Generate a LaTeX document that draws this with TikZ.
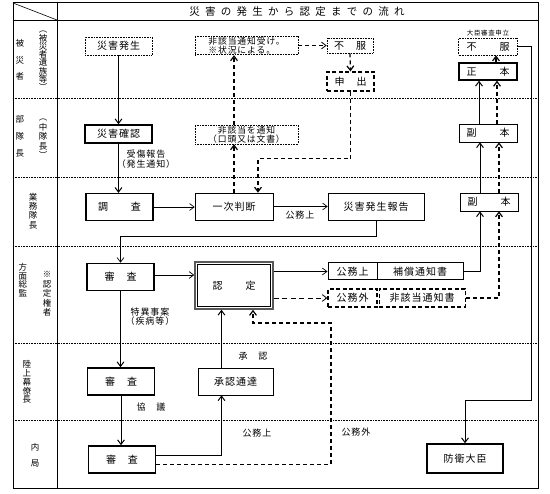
\documentclass[tikz,border=0pt]{standalone}
\usepackage{fontspec}
\setmainfont{Noto Sans CJK JP}[LetterSpace=10]
\newfontfamily\titlefont{Noto Sans CJK JP}[LetterSpace=50]
\usetikzlibrary{arrows.meta, positioning}

\begin{document}
\begin{tikzpicture}[
    x=1pt, y=-1pt,
    node distance=1pt,
    box/.style={rectangle, draw, line width=0.6pt, minimum width=67pt, minimum height=27pt, inner sep=1pt, align=center, font=\fontsize{10}{10.5}\selectfont},
    thickbox/.style={box, line width=1.5pt},
    dotbox/.style={box, densely dotted, line width=0.7pt, minimum height=18pt},
    dashbox/.style={box, dash pattern=on 4pt off 2.5pt, line width=1.2pt, minimum height=18pt},
    lbl/.style={font=\fontsize{9}{9.5}\selectfont, align=center, inner sep=1pt},
    side/.style={font=\fontsize{8.5}{#1}\selectfont, align=center, inner sep=0pt},
    arrow/.style={-{Straight Barb[length=1.6mm, width=2.4mm]}, line width=1pt},
    darrow/.style={arrow, dash pattern=on 4pt off 3pt, line width=1.2pt}
]
\useasboundingbox (0,0) rectangle (550,494);

% frame and lanes
\draw[line width=1pt] (13,3) rectangle (538,489);
\draw[line width=0.8pt] (13,20) -- (538,20);
\draw[line width=1pt] (57,3) -- (57,489);
\draw[line width=0.6pt] (13,3) -- (57,20);
\foreach \y in {98,177,246,343,420}
    \draw[densely dotted, line width=0.6pt] (13,\y) -- (538,\y);

\node[font=\fontsize{10.5}{12}\selectfont\titlefont] (title) at (297,12) {災害の発生から認定までの流れ};

% lane names
\node[side=16.5] (s1a) at (20,60) {被\\災\\者};
\node[side=8.3] (s1b) at (43,61) {︵\\被\\災\\者\\遺\\族\\等\\︶};
\node[side=17] (s2a) at (20,136) {部\\隊\\長};
\node[side=9.5] (s2b) at (43,139) {︵\\中\\隊\\長\\︶};
\node[side=9.3] (s3) at (33,211) {業\\務\\隊\\長};
\node[side=8.7] (s4a) at (23,280) {方\\面\\総\\監};
\node[side=9.5] (s4b) at (47,294) {※\\認\\定\\権\\者};
\node[side=8.8] (s5) at (27,382) {陸\\上\\幕\\僚\\長};
\node[side=16] (s6) at (35,455) {内\\局};

% boxes
\node[dotbox] (occur) at (118.5,46) {災害発生};
\node[thickbox, minimum height=18pt] (confirm) at (118.5,134) {災害確認};
\node[thickbox, line width=1.2pt] (survey) at (119.5,207) {調　　査};
\node[box, minimum width=78pt] (judge) at (234,206.5) {一次判断};
\node[box, minimum width=96pt] (report) at (376,206.5) {災害発生報告};
\node[thickbox] (exam1) at (120.5,277) {審　査};
\node[box, line width=1.6pt, draw=black!65, minimum width=78pt, minimum height=47pt] (nintei) at (234,285.5) {認　　定};
\node[draw, line width=0.6pt, minimum width=73pt, minimum height=42pt, inner sep=0pt] (ninteiin) at (nintei) {};
\node[box, line width=1pt, minimum width=49pt, minimum height=17pt] (kouA) at (352.5,271.5) {公務上};
\node[box, line width=1pt, minimum width=86pt, minimum height=17pt, right=-1pt of kouA] (hosho) {補償通知書};
\node[dashbox, minimum width=49pt] (kougai) at (352.5,298) {公務外};
\node[dashbox, minimum width=86pt, right=1pt of kougai] (higai) {非該当通知書};
\node[box, minimum width=58pt, minimum height=18pt] (fuku1) at (489,202) {副　　本};
\node[box, minimum width=58pt, minimum height=18pt] (fuku2) at (488,133) {副　　本};
\node[thickbox, minimum width=58pt, minimum height=17pt] (seihon) at (488,71.5) {正　　本};
\node[dotbox, minimum width=59pt, minimum height=17pt] (fufuku2) at (488,46.5) {不　　服};
\node[lbl, font=\fontsize{6.5}{7}\selectfont, above=0pt of fufuku2] (appeal) {大臣審査申立};
\node[thickbox, minimum width=76pt, minimum height=29pt] (minister) at (465,458.5) {防衛大臣};
\node[thickbox] (exam2) at (121,381.5) {審　査};
\node[box, minimum width=75pt] (approve) at (235.5,381.5) {承認通達};
\node[thickbox] (exam3) at (122,459.5) {審　査};
\node[dotbox, minimum width=103pt, align=left, font=\fontsize{8.8}{8.5}\selectfont] (ukete) at (246.5,45.5) {非該当通知受け。\\※状況による。};
\node[dotbox, minimum width=46pt, minimum height=15pt] (fufuku1) at (350,45.5) {不　服};
\node[dashbox, minimum width=47pt, minimum height=19pt] (moushide) at (350.5,81.5) {申　出};
\node[dotbox, minimum width=103pt, minimum height=17pt, font=\fontsize{8.8}{8.5}\selectfont] (hitsuchi) at (246.5,134.5) {非該当を通知\\（口頭又は文書）};

% labels
\node[lbl] (lhoukoku) at (146,159) {受傷報告\\（発生通知）};
\node[lbl] (lkoumu1) at (300,215) {公務上};
\node[lbl] (ltokui) at (150,316.5) {特異事案\\（疾病等）};
\node[lbl] (lshonin) at (253,356) {承　認};
\node[lbl] (lkyogi) at (151,407) {協　議};
\node[lbl] (lkoumu2) at (257,433) {公務上};
\node[lbl] (lkoumu3) at (356,432) {公務外};

% flow
\draw[arrow] (occur) -- (confirm);
\draw[arrow] (confirm.south) -- (confirm.south |- survey.north);
\draw[arrow, line width=0.7pt] (survey.east) -- (survey.east -| judge.west);
\draw[arrow, line width=0.7pt] (judge) -- (report);
\draw[arrow, line width=0.7pt] (report.south) -- ++(0,16) -| (exam1.north);
\draw[arrow, line width=0.7pt] ([yshift=2pt]exam1.east) -- ([yshift=2pt]exam1.east -| nintei.west);
\draw[arrow, line width=0.7pt] (nintei.east |- kouA.west) -- (kouA.west);
\draw[darrow, line width=0.8pt, dash pattern=on 5pt off 3.5pt] (nintei.east |- kougai.west) -- (kougai.west);
\draw[arrow] (hosho.east) -| ([xshift=-9pt]fuku1.south);
\draw[darrow] (higai.east) -| ([xshift=10pt]fuku1.south);
\draw[arrow] ([xshift=-9pt]fuku1.north) -- ([xshift=-9pt]fuku1.north |- fuku2.south);
\draw[darrow] ([xshift=10pt]fuku1.north) -- ([xshift=10pt]fuku1.north |- fuku2.south);
\draw[arrow] ([xshift=-9pt]fuku2.north) -- ([xshift=-9pt]fuku2.north |- seihon.south);
\draw[darrow] ([xshift=9pt]fuku2.north) -- ([xshift=9pt]fuku2.north |- seihon.south);
\draw[darrow] ([xshift=8pt]seihon.north) -- ([xshift=8pt]seihon.north |- fufuku2.south);
\coordinate (turn) at (531,401);
\draw[arrow] (fufuku2.east) -| (turn) -| (minister.north);
\draw[arrow] (exam1.south) -- (exam1.south |- exam2.north);
\draw[arrow] (exam2.south) -- (exam2.south |- exam3.north);
\draw[arrow] ([yshift=4pt]exam3.east) -| ([xshift=-14pt]approve.south);
\draw[arrow] ([xshift=-14pt]approve.north) -- ([xshift=-14pt]approve.north |- nintei.south);
\coordinate (gaiturn) at (331,323);
\draw[darrow] ([yshift=-5pt]exam3.east) -| (gaiturn) -| ([xshift=19pt]nintei.south);

% objection route
\draw[darrow] (judge.north) -- (judge.north |- hitsuchi.south);
\draw[darrow] (judge.north |- hitsuchi.north) -- (judge.north |- ukete.south);
\draw[darrow, line width=0.8pt] (ukete.east) -- (fufuku1.west);
\draw[darrow] (fufuku1.south) -- (moushide.north);
\draw[darrow] (moushide.south) -- ++(0,67) -| ([xshift=24pt]judge.north);
\end{tikzpicture}
\end{document}
